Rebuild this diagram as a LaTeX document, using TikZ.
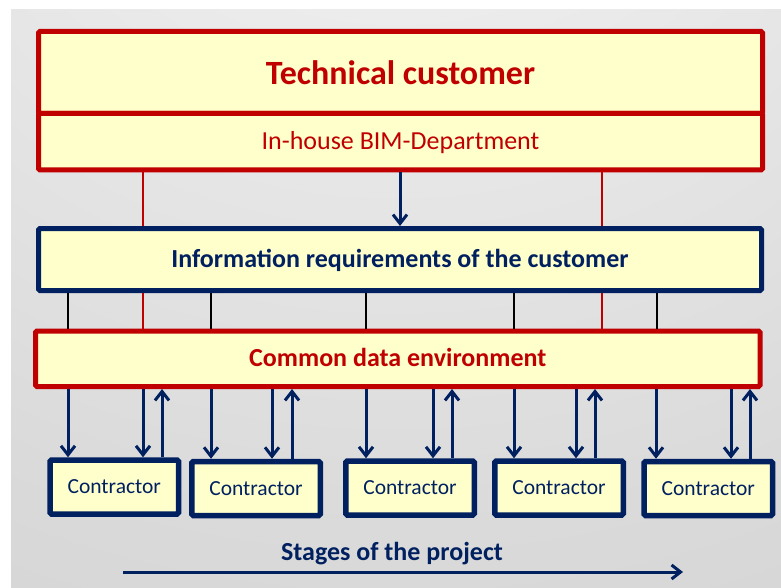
\documentclass[tikz,border=0pt]{standalone}
\usepackage{fontspec}
\setmainfont{Carlito}
\usetikzlibrary{arrows.meta}

\definecolor{ccred}{HTML}{C00000}
\definecolor{ccnavy}{HTML}{002060}
\definecolor{ccfill}{HTML}{FFFFCC}
\definecolor{bgA}{HTML}{F6F6F6}
\definecolor{bgB}{HTML}{DADADA}
\definecolor{bgC}{HTML}{C6C6C6}
\definecolor{bgD}{HTML}{B6B6B6}

% soft grey panel, brightest at the top centre
\pgfdeclareradialshading{panelshade}{\pgfpoint{0bp}{50bp}}{%
  color(0bp)=(bgA); color(50bp)=(bgB); color(100bp)=(bgC); color(125bp)=(bgD)}

\begin{document}
\begin{tikzpicture}[x=1pt,y=-1pt,
  box/.style={draw, fill=ccfill, line width=5pt, inner sep=0pt, rounded corners=1.5pt},
  redbox/.style={box, draw=ccred, text=ccred},
  navybox/.style={box, draw=ccnavy, text=ccnavy},
  contractor/.style={navybox, line width=5.5pt, minimum width=128.5pt, minimum height=54pt,
    font=\fontsize{21.5}{26}\selectfont},
  bigfont/.style={font=\fontsize{34}{40}\selectfont\bfseries},
  midfont/.style={font=\fontsize{26}{31}\selectfont, text height=18pt, text depth=2pt},
  midbold/.style={font=\fontsize{26}{31}\selectfont\bfseries, text height=18pt, text depth=2pt},
  redlink/.style={draw=ccred, line width=2.5pt},
  blacklink/.style={draw=black, line width=2.5pt},
  flow/.style={draw=ccnavy, line width=3pt, -{Straight Barb[length=9pt,width=14pt]}},
]
\useasboundingbox (0,0) rectangle (781,588);
\fill[white] (0,0) rectangle (781,588);
\shade[shading=panelshade] (11,10) rectangle (781,588);

% main blocks
\node[redbox, bigfont, minimum width=724pt, minimum height=82pt] (tc) at (400.5,72.5) {Technical customer};
\node[redbox, midfont, minimum width=724pt, minimum height=56.5pt] (bim) at (400.5,141.75) {In-house BIM-Department};
\node[navybox, midbold, minimum width=723pt, minimum height=62pt] (info) at (400,259.5) {Information requirements of the customer};
\node[redbox, midbold, minimum width=724.5pt, minimum height=55.5pt] (cde) at (397.75,358.75) {Common data environment};

% contractors
\node[contractor] (k1) at (114.3,487) {Contractor};
\node[contractor] (k2) at (256,488.5) {Contractor};
\node[contractor] (k3) at (410,488) {Contractor};
\node[contractor] (k4) at (559,488) {Contractor};
\node[contractor] (k5) at (708.3,488.5) {Contractor};

% links from the BIM department through to the data environment
\foreach \x in {143,602} {
  \coordinate (r\x) at (\x,0);
  \path[redlink] (bim.south -| r\x) -- (info.north -| r\x);
  \path[redlink] (info.south -| r\x) -- (cde.north -| r\x);
}
\coordinate (down) at (400,0);
\path[flow] (bim.south -| down) -- (info.north -| down);

% requirements feeding the data environment
\foreach \x in {68,211,366,514,657} {
  \coordinate (b\x) at (\x,0);
  \path[blacklink] (info.south -| b\x) -- (cde.north -| b\x);
}

% exchange between data environment and contractors
\foreach \i/\a/\b/\c in {1/68/143/162, 2/211/272/292, 3/366/433/452, 4/514/576/595, 5/656/731/750} {
  \coordinate (pa\i) at (\a,0);
  \coordinate (pb\i) at (\b,0);
  \coordinate (pc\i) at (\c,0);
  \path[flow] (cde.south -| pa\i) -- (k\i.north -| pa\i);
  \path[flow] (cde.south -| pb\i) -- (k\i.north -| pb\i);
  \path[flow] (k\i.north -| pc\i) -- (cde.south -| pc\i);
}

% project timeline
\node[text=ccnavy, midbold, inner sep=0pt] (stages) at (392,552) {Stages of the project};
\coordinate (t0) at (123,572);
\coordinate (t1) at (683,572);
\path[flow, line width=3pt] (t0) -- (t1);
\end{tikzpicture}
\end{document}
